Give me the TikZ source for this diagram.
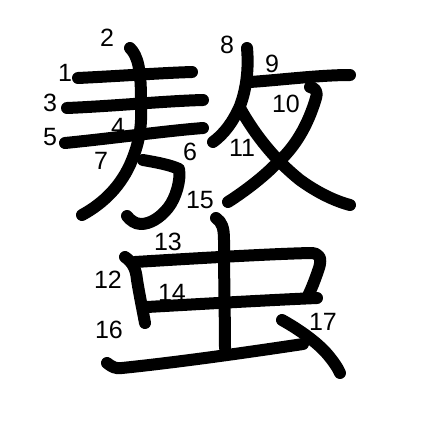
\documentclass[tikz,border=0pt]{standalone}
\usepackage{fontspec}
\setmainfont{Liberation Sans}
\begin{document}
\begin{tikzpicture}[x=1pt,y=-1pt,
  kstroke/.style={draw=black,line width=12pt,line cap=round,line join=round},
  num/.style={font=\fontsize{25}{25}\selectfont,inner sep=0pt,text=black}]
\useasboundingbox (0,0) rectangle (447,447);
% stroke 1
\draw[kstroke] (78,78) .. controls (120,76) and (160,73) .. (192,72);
% stroke 2, 4, 7 (vertical into long sweep)
\draw[kstroke] (130,48) .. controls (138,56) and (141,70) .. (141,100)
  .. controls (142,125) and (140,140) .. (132,160)
  .. controls (122,185) and (104,203) .. (82,215);
% stroke 3
\draw[kstroke] (67,108) .. controls (115,106) and (165,101) .. (203,100);
% stroke 5
\draw[kstroke] (65,143) .. controls (115,138) and (165,131) .. (203,128);
% stroke 6 hook
\draw[kstroke] (143,160) .. controls (160,163) and (170,165) .. (179,169)
  .. controls (181,180) and (176,198) .. (168,208)
  .. controls (160,218) and (150,224) .. (141,224)
  .. controls (135,224) and (130,220) .. (127,216);
% stroke 8
\draw[kstroke] (247,48) .. controls (249,70) and (246,90) .. (240,106)
  .. controls (233,122) and (224,134) .. (213,142);
% stroke 9
\draw[kstroke] (250,82) .. controls (280,80) and (320,75) .. (350,75);
% stroke 10
\draw[kstroke] (310,87) .. controls (315,88) and (318,91) .. (316,98)
  .. controls (308,125) and (295,148) .. (275,165)
  .. controls (260,180) and (242,193) .. (228,202);
% stroke 11
\draw[kstroke] (240,108) .. controls (255,135) and (275,160) .. (300,180)
  .. controls (318,193) and (335,201) .. (350,205);
% stroke 12
\draw[kstroke] (125,257) .. controls (132,262) and (136,268) .. (137,280)
  .. controls (140,298) and (143,312) .. (145,323);
% stroke 13
\draw[kstroke] (135,262) .. controls (200,258) and (270,254) .. (310,253)
  .. controls (320,253) and (322,258) .. (319,268)
  .. controls (315,280) and (311,290) .. (307,298);
% stroke 14
\draw[kstroke] (147,307) .. controls (200,304) and (270,300) .. (317,298);
% stroke 15
\draw[kstroke] (216,218) .. controls (222,222) and (224,228) .. (224,240)
  .. controls (224,280) and (225,320) .. (225,348);
% stroke 16
\draw[kstroke] (107,363) .. controls (112,367) and (116,369) .. (122,368)
  .. controls (180,362) and (250,352) .. (303,344);
% stroke 17
\draw[kstroke] (282,320) .. controls (300,330) and (318,343) .. (328,355)
  .. controls (333,361) and (338,368) .. (340,373);
% numbers
\node[num] (n1) at (65,73) {1};
\node[num] (n2) at (107,38) {2};
\node[num] (n3) at (50,103) {3};
\node[num] (n4) at (118,127) {4};
\node[num] (n5) at (50,137) {5};
\node[num] (n6) at (190,152) {6};
\node[num] (n7) at (101,161) {7};
\node[num] (n8) at (227,45) {8};
\node[num] (n9) at (272,64) {9};
\node[num] (n10) at (286,104) {10};
\node[num] (n11) at (242,148) {11};
\node[num] (n12) at (108,280) {12};
\node[num] (n13) at (168,242) {13};
\node[num] (n14) at (172,293) {14};
\node[num] (n15) at (200,200) {15};
\node[num] (n16) at (109,330) {16};
\node[num] (n17) at (323,322) {17};
\end{tikzpicture}
\end{document}
